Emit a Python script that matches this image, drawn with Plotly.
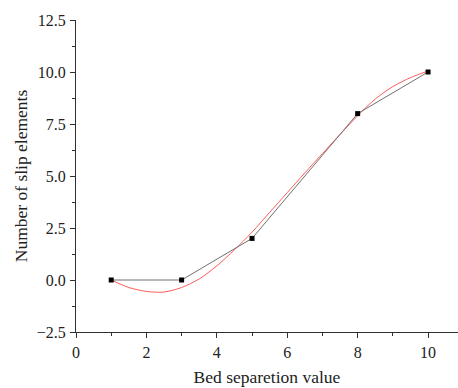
import plotly.graph_objects as go

# Measured data points
bed_sep = [1, 3, 5, 8, 10]
slip_elements = [0, 0, 2, 8, 10]

# Red fitted curve
fit_x = [1, 1.5, 2, 2.5, 3, 3.5, 4, 4.5, 5, 5.5, 6, 6.5, 7, 7.5, 8, 8.5, 9, 9.5, 10]
fit_y = [0.0, -0.36, -0.55, -0.58, -0.36, 0.05, 0.68, 1.45, 2.3, 3.25, 4.2, 5.15,
         6.08, 7.0, 7.9, 8.7, 9.3, 9.73, 10.05]

x_ticks = [0, 2, 4, 6, 8, 10]
y_ticks = [-2.5, 0.0, 2.5, 5.0, 7.5, 10.0, 12.5]

FONT = "Liberation Serif"
TXT = "#222222"

fig = go.Figure()
fig.add_trace(go.Scatter(
    x=fit_x, y=fit_y, mode="lines",
    line=dict(color="#ff5a5a", width=1, shape="spline", smoothing=0.8),
    showlegend=False, hoverinfo="skip"))
fig.add_trace(go.Scatter(
    x=bed_sep, y=slip_elements, mode="lines+markers",
    line=dict(color="#707070", width=1),
    marker=dict(symbol="square", size=5, color="black"),
    showlegend=False))

axis_common = dict(
    showline=True, linecolor="#303030", linewidth=1,
    ticks="outside", ticklen=5, tickwidth=1, tickcolor="#303030",
    showgrid=False, zeroline=False, automargin=False,
    tickfont=dict(family=FONT, size=16, color=TXT),
)

fig.update_xaxes(
    range=[0, 10.85], tickvals=x_ticks, ticklabelstandoff=1,
    minor=dict(dtick=1, ticks="outside", ticklen=3, tickcolor="#303030", showgrid=False),
    title=dict(text="Bed separetion value", font=dict(family=FONT, size=17.5, color=TXT), standoff=10),
    **axis_common)
fig.update_yaxes(
    range=[-2.5, 12.5], tickvals=y_ticks, tickformat=".1f", ticklabelstandoff=1,
    minor=dict(dtick=1.25, ticks="outside", ticklen=3, tickcolor="#303030", showgrid=False),
    title=dict(text="Number of slip elements", font=dict(family=FONT, size=17.5, color=TXT), standoff=4),
    **axis_common)

fig.update_layout(
    width=458, height=388,
    margin=dict(l=76, r=0, t=20, b=56),
    paper_bgcolor="white", plot_bgcolor="white",
    font=dict(family=FONT),
)

fig.write_html("out.html", config={"displayModeBar": False},
               post_script="document.body.style.margin='0';document.body.style.overflow='hidden';")
